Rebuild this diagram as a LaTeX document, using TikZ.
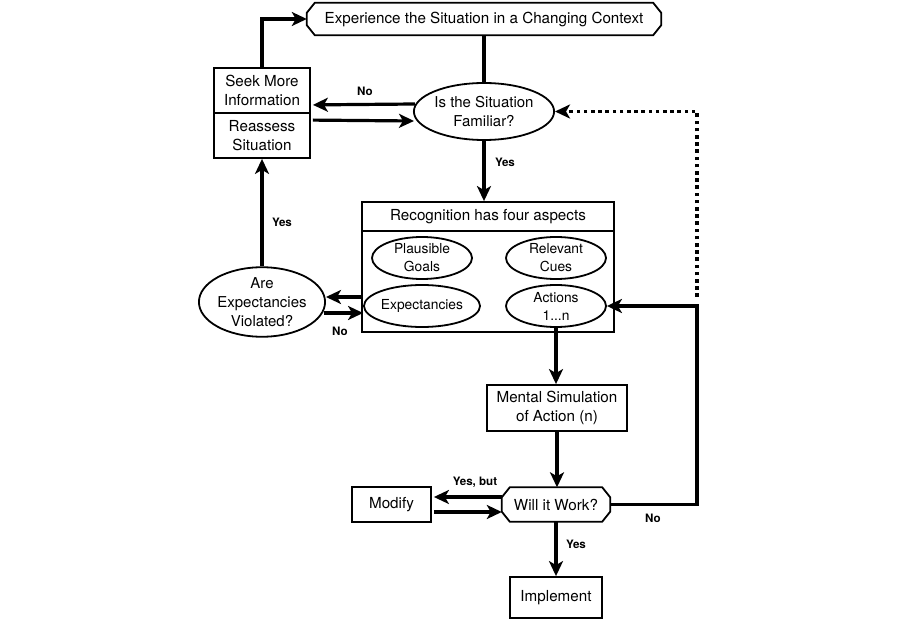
\documentclass[tikz,border=0pt]{standalone}
\usepackage{fontspec}
\setmainfont{TeX Gyre Heros}
\usetikzlibrary{arrows.meta,shapes.geometric,calc}
\begin{document}
\begin{tikzpicture}[x=1pt,y=-1pt,
  bord/.style={line width=1.8pt,line join=miter},
  plain/.style={rectangle,align=center,inner sep=0pt,font=\fontsize{15.2}{19}\selectfont},
  box/.style={plain,draw,bord,fill=white},
  ell/.style={ellipse,draw,bord,fill=white,align=center,inner sep=0pt,font=\fontsize{15}{19}\selectfont},
  smell/.style={ell,minimum width=100pt,minimum height=42pt,font=\fontsize{13.8}{18}\selectfont},
  conn/.style={line width=3.2pt},
  arr/.style={conn,-{Stealth[length=15pt,width=14pt,inset=4pt]}},
  dotarr/.style={line width=3.6pt,dash pattern=on 3.6pt off 3.6pt,-{Stealth[length=15pt,width=14pt,inset=4pt]}},
  lbl/.style={font=\bfseries\fontsize{11.6}{13}\selectfont,inner sep=0pt}
]
\fill[white] (0,0) rectangle (900,620);
\useasboundingbox (0,0) rectangle (900,620);

% nodes
\node[plain,minimum width=354pt,minimum height=32pt] (exp) at (484,19) {Experience the Situation in a Changing Context};
\draw[bord] ($(exp.north west)+(8,0)$) -- ($(exp.north east)+(-8,0)$) -- ($(exp.north east)+(0,10)$) -- ($(exp.south east)+(0,-10)$) -- ($(exp.south east)+(-8,0)$) -- ($(exp.south west)+(8,0)$) -- ($(exp.south west)+(0,-10)$) -- ($(exp.north west)+(0,10)$) -- cycle;

\node[ell,minimum width=140pt,minimum height=57pt] (fam) at (484,111.5) {Is the Situation\\Familiar?};
\node[box,minimum width=96pt,minimum height=45pt] (seek) at (262,90.5) {Seek More\\Information};
\node[box,minimum width=96pt,minimum height=45pt] (reas) at (262,135.5) {Reassess\\Situation};

\node[box,minimum width=252pt,minimum height=29pt] (recT) at (488,216.5) {Recognition has four aspects};
\node[box,minimum width=252pt,minimum height=101pt] (recB) at (488,281.5) {};
\node[smell] (goals) at (422,258) {Plausible\\Goals};
\node[smell] (cues) at (556,258) {Relevant\\Cues};
\node[smell] (expc) at (422,306) {Expectancies};
\node[smell] (acts) at (556,306) {Actions\\1...n};

\node[ell,minimum width=121pt,minimum height=69pt] (aev) at (262,302) {Are\\Expectancies\\Violated?};

\node[box,minimum width=140pt,minimum height=46pt] (ment) at (557,408) {Mental Simulation\\of Action (n)};
\node[plain,minimum width=108pt,minimum height=34pt] (will) at (556,504.5) {Will it Work?};
\draw[bord] ($(will.north west)+(8,0)$) -- ($(will.north east)+(-8,0)$) -- ($(will.north east)+(0,10)$) -- ($(will.south east)+(0,-10)$) -- ($(will.south east)+(-8,0)$) -- ($(will.south west)+(8,0)$) -- ($(will.south west)+(0,-10)$) -- ($(will.north west)+(0,10)$) -- cycle;
\node[box,minimum width=79pt,minimum height=35pt] (mod) at (391.5,504.5) {Modify};
\node[box,minimum width=92pt,minimum height=41pt] (impl) at (556,597.5) {Implement};

\coordinate (rx) at (697,0);

% connectors
\draw[conn] (exp.south) -- (fam.north);
\draw[arr] ($(fam.west)+(2,-7.5)$) -- ($(seek.south east)+(2,-9)$);
\draw[arr] ($(reas.north east)+(2,8)$) -- ($(fam.west)+(1,9.5)$);
\draw[arr] (seek.north) |- (exp.west);
\draw[arr] (fam.south) -- (fam.south |- recT.north);
\draw[arr] ($(expc.west)+(0,-9)$) -- ($(aev.east)+(0,-5)$);
\draw[arr] ($(aev.east)+(-2,11)$) -- ($(expc.west)+(0,7)$);
\draw[arr] (aev.north) -- (reas.south);
\draw[arr] (acts.south) -- (acts.south |- ment.north);
\draw[arr] (ment.south) -- (ment.south |- will.north);
\draw[arr] ($(will.west)+(0,-7.5)$) -- ($(mod.east)+(2,-7.5)$);
\draw[arr] ($(mod.east)+(2,7.5)$) -- ($(will.west)+(0,7.5)$);
\draw[arr] (will.south) -- (impl.north);
\draw[arr] (will.east) -| (rx |- acts.east) -- (acts.east);
\draw[dotarr] ($(rx |- acts.east)+(0,-9)$) -- (rx |- fam.east) -- (fam.east);

% labels
\node[lbl] (lno1) at (365,91) {No};
\node[lbl] (lyes1) at (505,162) {Yes};
\node[lbl] (lyes2) at (282,222) {Yes};
\node[lbl] (lno2) at (340,331) {No};
\node[lbl] (lyb) at (475,482) {Yes, but};
\node[lbl] (lno3) at (653,518) {No};
\node[lbl] (lyes3) at (576,544) {Yes};
\end{tikzpicture}
\end{document}
